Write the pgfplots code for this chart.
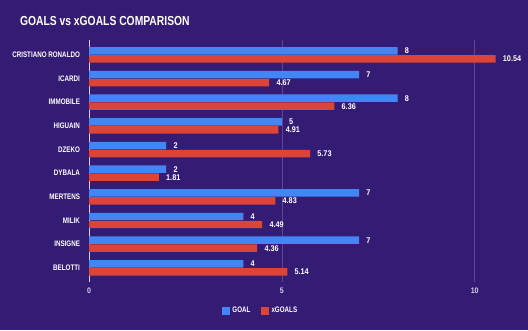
\documentclass[border=0pt]{standalone}
\usepackage{pgfplots}
\pgfplotsset{compat=1.18}
\usepackage{fontspec}
\setmainfont{Liberation Sans}
\newfontfamily\cond[FakeStretch=0.78]{Liberation Sans}
\newfontfamily\numf[FakeStretch=0.88]{Liberation Sans}
\newfontfamily\titlef[FakeStretch=0.79]{Liberation Sans}
\definecolor{bgcol}{HTML}{341C74}
\definecolor{goalc}{HTML}{4285F4}
\definecolor{xgc}{HTML}{DB4437}
\definecolor{gridc}{HTML}{5A4790}
\definecolor{tickc}{HTML}{D6CFEA}
\begin{document}
\begin{tikzpicture}[x=1pt,y=1pt]
\fill[bgcol] (0,0) rectangle (396,247.5);
\useasboundingbox (0,0) rectangle (396,247.5);
\node[anchor=west,text=white,font=\titlef\bfseries\fontsize{9.8}{11}\selectfont] at (11.5,231.5) {GOALS vs xGOALS COMPARISON};
\begin{axis}[
  at={(66.75pt,36pt)}, anchor=south west,
  scale only axis, width=324pt, height=181.5pt,
  xbar, bar width=5.6pt,
  xmin=0, xmax=11.2,
  ymin=-0.63, ymax=9.6, y dir=reverse,
  ytick={0,...,9},
  yticklabels={CRISTIANO RONALDO,ICARDI,IMMOBILE,HIGUAIN,DZEKO,DYBALA,MERTENS,MILIK,INSIGNE,BELOTTI},
  yticklabel style={font=\cond\bfseries\fontsize{6.0}{7}\selectfont, text=white, xshift=1pt},
  xtick={5,10},
  extra x ticks={0},
  extra x tick style={grid style={draw=tickc, line width=0.6pt}},
  xmajorgrids, grid style={draw=gridc, line width=0.5pt},
  xticklabel style={font=\numf\bfseries\fontsize{6}{7}\selectfont, text=tickc, yshift=-1pt},
  /pgf/number format/assume math mode=true,
  axis line style={draw=none},
  tick style={draw=none},
  nodes near coords,
  nodes near coords style={font=\numf\bfseries\fontsize{6.2}{7}\selectfont, text=white, anchor=west, xshift=2pt},
  legend style={at={(0.398,-0.12)}, anchor=center, draw=none, fill=none, text=white,
    font=\cond\bfseries\fontsize{6}{7}\selectfont, legend columns=2,
    /tikz/every even column/.append style={column sep=6pt}},
  legend image code/.code={\fill[#1] (0pt,-2.9pt) rectangle (5.8pt,2.9pt);},
]
\addplot[fill=goalc, draw=none, bar shift=3pt] coordinates {
(8,0) (7,1) (8,2) (5,3) (2,4) (2,5) (7,6) (4,7) (7,8) (4,9)};
\addplot[fill=xgc, draw=none, bar shift=-3pt] coordinates {
(10.54,0) (4.67,1) (6.36,2) (4.91,3) (5.73,4) (1.81,5) (4.83,6) (4.49,7) (4.36,8) (5.14,9)};
\legend{GOAL, xGOALS}
\end{axis}
\end{tikzpicture}
\end{document}
